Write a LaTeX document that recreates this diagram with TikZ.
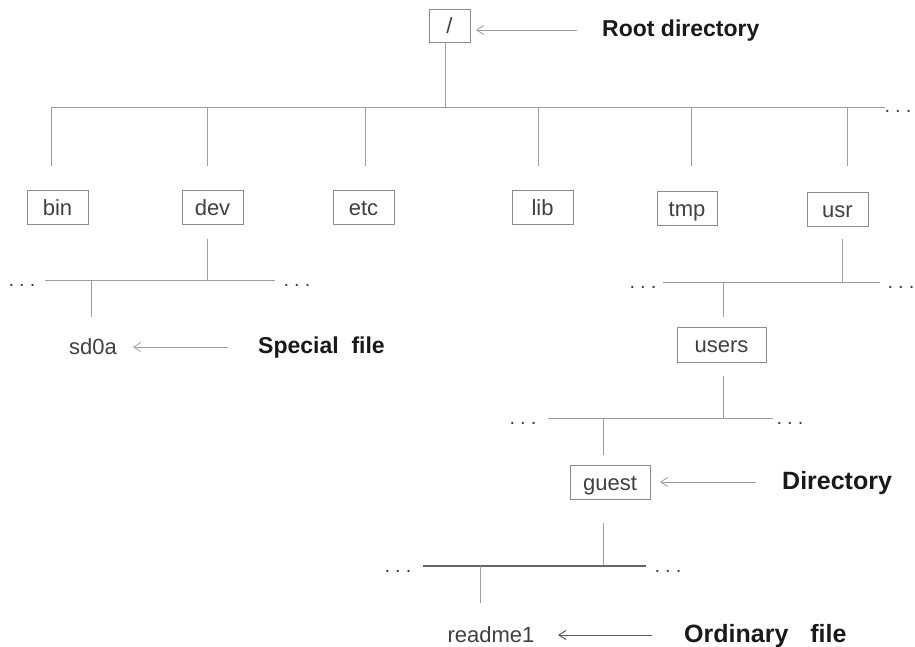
\documentclass[tikz,border=0pt]{standalone}
\usepackage{fontspec}
\setmainfont{Liberation Sans}
\usetikzlibrary{arrows.meta}
\definecolor{linegray}{gray}{0.62}
\definecolor{boxgray}{gray}{0.55}
\definecolor{textgray}{gray}{0.25}
\newcommand{\moredots}{.\hspace{5pt}.\hspace{5pt}.}
\begin{document}
\begin{tikzpicture}[x=1pt,y=-1pt,
  dirbox/.style={draw=boxgray,line width=0.8pt,inner sep=0pt,minimum height=34pt,
    minimum width=61pt,text height=16pt,text depth=0pt,
    text=textgray,font=\fontsize{22}{24}\selectfont},
  filename/.style={inner sep=0pt,text=textgray,font=\fontsize{22}{24}\selectfont},
  caption/.style={anchor=west,inner sep=0pt,font=\fontsize{23}{26}\selectfont\bfseries,text=black!90},
  link/.style={draw=linegray,line width=0.8pt},
  pointer/.style={draw=linegray,line width=0.8pt,-{Straight Barb[length=7pt,width=9pt]}},
  more/.style={anchor=base,inner sep=0pt,text=textgray,font=\fontsize{20}{22}\selectfont}]
\useasboundingbox (0,0) rectangle (915,647);

% top level
\node[dirbox,minimum width=41pt,minimum height=33pt] (root) at (449.5,25.5) {/};
\node[dirbox] (bin) at (57.5,207) {bin};
\node[dirbox] (dev) at (212.5,207) {dev};
\node[dirbox] (etc) at (363.5,207.5) {etc};
\node[dirbox] (lib) at (542.5,207.5) {lib};
\node[dirbox,minimum width=60pt] (tmp) at (687,208) {tmp};
\node[dirbox] (usr) at (837.5,209) {usr};

\coordinate (rootdown) at (445,42);
\coordinate (rootbusL) at (51,107);
\coordinate (rootbusR) at (885,107);
\coordinate (rootbusM) at (445,107);
\draw[link] (rootdown) -- (rootbusM);
\draw[link] (rootbusL) -- (rootbusR);
\node[more] (rootmore) at (898,113) {\moredots};
\foreach \name/\x in {bin/51,dev/207,etc/365,lib/538,tmp/691,usr/847}{
  \coordinate (\name top) at (\x,107);
  \coordinate (\name end) at (\x,166);
  \draw[link] (\name top) -- (\name end);
}

% /dev branch
\coordinate (devdown) at (207,239);
\coordinate (devbus) at (207,280);
\coordinate (devbusL) at (45,280);
\coordinate (devbusR) at (275,280);
\draw[link] (devdown) -- (devbus);
\draw[link] (devbusL) -- (devbusR);
\node[more] (devmoreL) at (22,286) {\moredots};
\node[more] (devmoreR) at (297,286) {\moredots};
\coordinate (sdtop) at (91,280);
\coordinate (sdend) at (91,317);
\draw[link] (sdtop) -- (sdend);
\node[filename] (sd0a) at (93,347) {sd0a};
\node[caption] (special) at (258,348) {Special\ \ file};
\coordinate (specialtail) at (228,347);
\coordinate (specialhead) at (133,347);
\draw[pointer] (specialtail) -- (specialhead);

% /usr branch
\coordinate (usrdown) at (842,239);
\coordinate (usrbus) at (842,282);
\coordinate (usrbusL) at (663,282);
\coordinate (usrbusR) at (880,282);
\draw[link] (usrdown) -- (usrbus);
\draw[link] (usrbusL) -- (usrbusR);
\node[more] (usrmoreL) at (643,288) {\moredots};
\node[more] (usrmoreR) at (901,288) {\moredots};
\coordinate (userstop) at (723,282);
\coordinate (usersend) at (723,317);
\draw[link] (userstop) -- (usersend);
\node[dirbox,minimum width=89pt,minimum height=35pt] (users) at (721.5,344.5) {users};

% /usr/users branch
\coordinate (usersdown) at (723,376);
\coordinate (usersbus) at (723,418);
\coordinate (usersbusL) at (548,418);
\coordinate (usersbusR) at (773,418);
\draw[link] (usersdown) -- (usersbus);
\draw[link] (usersbusL) -- (usersbusR);
\node[more] (usersmoreL) at (523,424) {\moredots};
\node[more] (usersmoreR) at (790,424) {\moredots};
\coordinate (guesttop) at (603,418);
\coordinate (guestend) at (603,455);
\draw[link] (guesttop) -- (guestend);
\node[dirbox,minimum width=80pt] (guest) at (610,482) {guest};
\node[caption,font=\fontsize{25}{28}\selectfont\bfseries] (directory) at (782,483) {Directory};
\coordinate (dirtail) at (756,482);
\coordinate (dirhead) at (660,482);
\draw[pointer] (dirtail) -- (dirhead);

% /usr/users/guest branch
\coordinate (guestdown) at (603,523);
\coordinate (guestbus) at (603,566);
\coordinate (guestbusL) at (423,566);
\coordinate (guestbusR) at (646,566);
\draw[link] (guestdown) -- (guestbus);
\draw[link,draw=black!60,line width=1.3pt] (guestbusL) -- (guestbusR);
\node[more] (guestmoreL) at (398,572) {\moredots};
\node[more] (guestmoreR) at (668,572) {\moredots};
\coordinate (readmetop) at (480,566);
\coordinate (readmeend) at (480,603);
\draw[link] (readmetop) -- (readmeend);
\node[filename] (readme) at (491,635) {readme1};
\node[caption,font=\fontsize{25}{28}\selectfont\bfseries] (ordinary) at (684,636) {Ordinary\hspace{22pt}file};
\coordinate (ordtail) at (652,635);
\coordinate (ordhead) at (558,635);
\draw[pointer,draw=black!65,line width=1pt] (ordtail) -- (ordhead);

% root pointer
\node[caption] (rootlabel) at (602,31) {Root directory};
\coordinate (roottail) at (577,30);
\coordinate (roothead) at (476,30);
\draw[pointer] (roottail) -- (roothead);
\end{tikzpicture}
\end{document}
